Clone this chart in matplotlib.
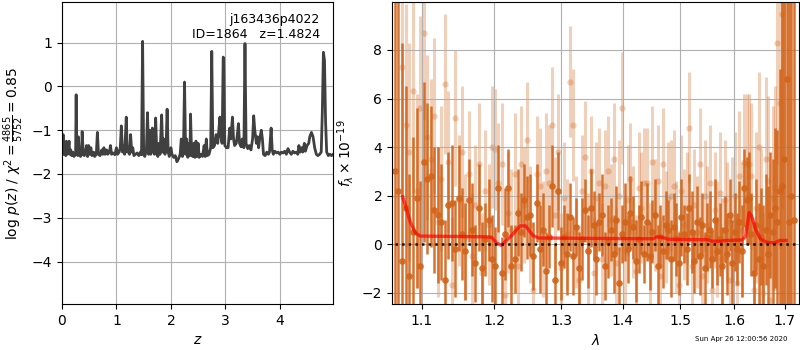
import matplotlib
matplotlib.use('Agg')
import matplotlib.pyplot as plt
import numpy as np

# --- p(z) curve (left panel) ---
z_grid = [0.00, 0.01, 0.02, 0.03, 0.05, 0.07, 0.08, 0.09, 0.11, 0.13, 0.14, 0.16, 0.18, 0.20, 0.22,
          0.25, 0.26, 0.27, 0.29, 0.30, 0.32, 0.34, 0.36, 0.37, 0.39, 0.41, 0.43, 0.45, 0.47, 0.49,
          0.51, 0.53, 0.55, 0.58, 0.60, 0.63, 0.65, 0.67, 0.70, 0.73, 0.75, 0.77, 0.79, 0.82, 0.84,
          0.87, 0.89, 0.91, 0.94, 0.97, 1.00, 1.02, 1.05, 1.07, 1.09, 1.11, 1.13, 1.15, 1.18, 1.20,
          1.22, 1.24, 1.26, 1.28, 1.30, 1.32, 1.35, 1.38, 1.41, 1.44, 1.46, 1.48, 1.50, 1.52, 1.55,
          1.57, 1.59, 1.61, 1.63, 1.66, 1.68, 1.70, 1.72, 1.74, 1.76, 1.78, 1.80, 1.83, 1.85, 1.87,
          1.89, 1.91, 1.93, 1.95, 1.97, 2.00, 2.02, 2.05, 2.08, 2.11, 2.14, 2.17, 2.19, 2.21, 2.23,
          2.25, 2.27, 2.29, 2.31, 2.33, 2.35, 2.36, 2.38, 2.40, 2.42, 2.44, 2.46, 2.48, 2.50, 2.52,
          2.55, 2.58, 2.61, 2.63, 2.65, 2.67, 2.70, 2.73, 2.75, 2.77, 2.80, 2.83, 2.86, 2.88, 2.90,
          2.92, 2.94, 2.96, 2.97, 2.99, 3.02, 3.05, 3.08, 3.10, 3.13, 3.15, 3.17, 3.20, 3.22, 3.24,
          3.26, 3.29, 3.31, 3.34, 3.36, 3.38, 3.41, 3.44, 3.47, 3.50, 3.52, 3.54, 3.57, 3.59, 3.61,
          3.63, 3.66, 3.68, 3.70, 3.73, 3.76, 3.79, 3.81, 3.84, 3.86, 3.88, 3.91, 3.94, 3.97, 4.00,
          4.03, 4.06, 4.09, 4.12, 4.15, 4.18, 4.21, 4.24, 4.27, 4.30, 4.33, 4.35, 4.37, 4.40, 4.42,
          4.45, 4.47, 4.50, 4.53, 4.55, 4.58, 4.61, 4.64, 4.67, 4.70, 4.73, 4.76, 4.78, 4.80, 4.82,
          4.84, 4.86, 4.89, 4.92, 4.95, 4.98]
log_pz = [-1.45, -1.55, -1.10, -1.55, -1.50, -1.58, -1.25, -1.55, -1.50, -1.25, -1.55, -1.45, -1.58, -1.50, -1.60,
          -1.55, -0.19, -1.55, -1.58, -1.15, -1.55, -1.60, -1.55, -1.03, -1.55, -1.58, -1.50, -1.35, -1.60, -1.35,
          -1.55, -1.40, -1.58, -1.50, -1.60, -1.55, -1.05, -1.55, -1.58, -1.45, -1.55, -1.40, -1.55, -1.45, -1.55,
          -1.50, -1.35, -1.55, -1.52, -1.56, -1.40, -1.55, -1.50, -1.40, -0.90, -1.50, -1.35, -1.55, -0.70, -1.50,
          -1.45, -1.55, -1.10, -1.50, -1.40, -1.58, -1.55, -1.52, -1.58, -1.50, -1.56, 1.03, -1.55, -1.60, -1.45,
          -0.60, -1.55, -1.00, -1.55, -0.95, -1.50, -1.55, -0.72, -1.50, -1.60, -1.30, -1.55, -0.65, -1.50, -1.20,
          -1.55, -1.45, -0.52, -1.50, -1.60, -1.40, -1.55, -1.62, -1.58, -1.72, -1.65, -1.55, -1.20, -1.60, -1.50,
          0.10, -1.55, -1.20, -1.62, -1.30, -1.58, -0.63, -1.55, -1.60, -1.30, -1.62, -1.25, -1.60, -1.30, -1.62,
          -1.55, -1.60, -1.35, -1.60, -1.20, -1.58, -1.55, -1.40, 0.80, -1.40, -1.35, -1.10, -1.30, -1.00, -0.70,
          -1.15, -1.30, 0.67, 0.65, -1.35, -1.40, -1.40, -0.95, -1.20, -0.70, -1.20, -1.35, -1.30, -1.10, -0.85,
          -1.30, -1.38, -1.20, -1.40, 0.98, -1.30, -1.42, -1.35, -1.45, -1.20, -0.67, -1.00, -1.30, -1.15, -1.40,
          -1.20, -1.00, -1.20, -1.55, -1.58, -1.50, -1.55, -1.50, -0.95, -1.45, -1.55, -1.48, -1.52, -1.50, -1.55,
          -1.50, -1.52, -1.48, -1.55, -1.42, -1.50, -1.55, -1.48, -1.52, -1.50, -1.55, -1.35, -1.50, -1.40, -1.50,
          -1.30, -1.48, -1.35, -1.30, -1.15, -1.05, -1.15, -1.40, -1.55, -1.58, -1.55, -1.50, -0.60, 0.78, 0.60,
          -0.80, -1.50, -1.58, -1.55, -1.58, -1.55]

# --- spectrum (right panel), wavelength in Angstrom ---
wave = [10650, 10697, 10744, 10791, 10838, 10885, 10932, 10979, 11026, 11073,
        11120, 11167, 11214, 11261, 11308, 11355, 11402, 11449, 11496, 11543,
        11590, 11637, 11684, 11731, 11778, 11825, 11872, 11919, 11966, 12013,
        12060, 12107, 12154, 12201, 12248, 12295, 12342, 12389, 12436, 12483,
        12530, 12577, 12624, 12671, 12718, 12765, 12812, 12859, 12906, 12953,
        13000, 13047, 13094, 13141, 13188, 13235, 13282, 13329, 13376, 13423,
        13470, 13517, 13564, 13611, 13658, 13705, 13752, 13799, 13846, 13893,
        13940, 13987, 14034, 14081, 14128, 14175, 14222, 14269, 14316, 14363,
        14410, 14457, 14504, 14551, 14598, 14645, 14692, 14739, 14786, 14833,
        14880, 14927, 14974, 15021, 15068, 15115, 15162, 15209, 15256, 15303,
        15350, 15397, 15444, 15491, 15538, 15585, 15632, 15679, 15726, 15773,
        15820, 15867, 15914, 15961, 16008, 16055, 16102, 16149, 16196, 16243,
        16290, 16337, 16384, 16431, 16478, 16525, 16572, 16619, 16666, 16713,
        16760, 16807, 16854, 16901, 16948, 16995, 17042, 17089, 17136, 17183]

flux_dark = [3.0, 2.2, -0.7, 1.5, -1.3, 0.5, 1.9, -0.9, 3.4, 2.7,
             2.8, 1.4, 1.2, 0.9, -1.5, 1.6, 1.7, -0.2, 1.9, 0.4,
             -0.3, 1.8, 0.6, -0.8, 1.5, -1.0, 0.2, 1.0, -0.6, -0.9,
             2.3, -1.2, 0.4, 2.3, -0.9, -0.6, 1.3, 0.5, 1.8, 1.1,
             1.2, -0.5, 1.7, -0.2, 0.6, -1.1, 0.3, 2.4, -1.5, 2.2,
             -0.8, 0.3, -0.4, 1.1, -0.5, 0.7, -1.0, 0.2, 1.4, -0.3,
             1.5, 0.8, -0.6, 0.9, 1.2, -0.9, 0.1, 0.6, -0.4, 1.0,
             -1.6, 0.4, 0.9, -0.2, 1.3, 0.7, -0.7, 0.2, 1.1, -0.4,
             0.9, -0.5, 0.5, 1.2, -0.9, 0.3, -0.3, 0.8, 0.6, -0.6,
             0.7, 0.2, -0.8, 1.1, 0.4, -0.2, 1.5, 0.5, -0.7, 0.9,
             -0.5, 0.8, -1.0, 0.3, 0.6, -0.6, 1.0, -0.3, 0.2, -0.9,
             0.6, -0.4, 1.2, -0.8, 0.5, -0.2, 0.9, -0.3, 2.3, 1.8,
             1.9, 0.4, -1.2, 0.8, -0.6, 0.3, -0.9, 0.6, -0.4, 1.2,
             0.5, 1.5, 0.9, 2.2, 2.4, 3.5, 6.8, 0.9, 2.0, 1.0]
err_dark = [12, 10, 9, 5.0, 4.2, 3.9, 3.7, 3.5, 3.3, 3.1,
            2.9, 2.6, 2.8, 2.4, 2.5, 2.2, 2.4, 2.0, 2.2, 1.9,
            2.0, 1.7, 1.9, 1.6, 1.8, 1.9, 1.5, 1.7, 1.8, 1.6,
            1.8, 1.5, 1.9, 1.6, 1.7, 1.4, 1.8, 1.6, 1.5, 1.7,
            1.7, 1.4, 1.6, 1.8, 1.5, 1.6, 1.3, 1.7, 1.5, 1.6,
            1.5, 1.3, 1.7, 1.4, 1.6, 1.2, 1.5, 1.7, 1.3, 1.5,
            1.6, 1.4, 1.5, 1.2, 1.7, 1.4, 1.5, 1.3, 1.6, 1.4,
            1.5, 1.2, 1.6, 1.4, 1.5, 1.3, 1.7, 1.4, 1.5, 1.2,
            1.6, 1.4, 1.3, 1.5, 1.7, 1.3, 1.5, 1.4, 1.2, 1.6,
            1.4, 1.5, 1.3, 1.6, 1.2, 1.5, 1.4, 1.7, 1.3, 1.5,
            1.6, 1.3, 1.5, 1.4, 1.6, 1.2, 1.7, 1.4, 1.5, 1.6,
            1.4, 1.7, 1.5, 1.8, 1.6, 1.5, 1.7, 1.9, 1.6, 1.8,
            1.9, 1.7, 2.1, 1.9, 2.3, 2.0, 2.5, 2.3, 2.8, 2.6,
            3.0, 3.3, 3.8, 5.0, 8.0, 12, 14, 14, 14, 14]

flux_light = [np.nan, np.nan, 7.3, 4.9, 3.8, 6.3, 2.2, 5.6, 8.7, 4.4,
              3.5, 5.3, 0.9, 2.7, 6.6, 3.4, -1.7, 5.2, 1.8, 3.8,
              0.3, 2.9, -0.5, 1.6, 3.3, -1.2, 2.2, 0.8, 4.0, 3.9,
              2.5, 3.3, -2.1, 1.3, 0.6, 2.9, -0.9, 3.3, 1.6, 4.3,
              0.8, -1.9, 2.9, 2.4, 0.2, 3.0, 2.5, 4.9, 1.2, 3.8,
              -1.0, 1.9, 0.4, 6.7, 4.9, 0.5, -1.5, 2.2, 3.6, -0.2,
              3.0, -1.2, 1.9, 2.5, -0.6, 2.4, 3.0, 1.0, 3.5, -0.8,
              2.0, 5.6, -0.3, 1.8, 2.7, 0.9, -1.1, 2.3, 1.5, 2.5,
              2.5, -0.6, 3.4, 1.2, 2.6, -1.3, 3.3, 0.7, 1.9, 2.0,
              2.4, 0.3, -1.7, 2.2, 0.8, 1.5, 4.8, -0.9, 1.6, 0.5,
              3.3, -1.3, 2.0, 0.8, 2.5, -1.9, 1.4, 0.2, 2.1, -0.6,
              1.8, 0.9, -1.5, 1.0, 2.0, -1.6, 2.8, 0.6, 3.4, 3.3,
              3.3, 2.8, -1.9, 1.5, 4.0, 0.7, -2.0, 3.5, 2.6, -2.3,
              1.9, 2.3, 8.3, 5.8, 9.5, np.nan, np.nan, np.nan, np.nan, np.nan]
err_light = [6.0, 6.0, 5.5, 5.0, 4.5, 4.2, 4.0, 3.8, 3.6, 3.4,
             3.3, 3.2, 3.1, 3.0, 2.9, 2.9, 2.8, 2.8, 2.7, 2.7,
             2.6, 2.6, 2.6, 2.5, 2.5, 2.5, 2.5, 2.5, 2.5, 2.5,
             2.5, 2.5, 2.5, 2.5, 2.5, 2.5, 2.4, 2.4, 2.4, 2.4,
             2.4, 2.4, 2.4, 2.4, 2.4, 2.4, 2.4, 2.4, 2.4, 2.4,
             2.3, 2.3, 2.3, 2.3, 2.3, 2.3, 2.3, 2.3, 2.3, 2.3,
             2.3, 2.3, 2.3, 2.3, 2.3, 2.3, 2.3, 2.3, 2.3, 2.3,
             2.3, 2.3, 2.3, 2.3, 2.3, 2.3, 2.3, 2.3, 2.3, 2.3,
             2.3, 2.3, 2.3, 2.3, 2.3, 2.3, 2.3, 2.3, 2.3, 2.3,
             2.3, 2.3, 2.3, 2.3, 2.3, 2.3, 2.3, 2.3, 2.3, 2.3,
             2.3, 2.3, 2.3, 2.4, 2.4, 2.4, 2.4, 2.4, 2.5, 2.5,
             2.5, 2.5, 2.6, 2.6, 2.6, 2.7, 2.7, 2.8, 2.8, 2.9,
             2.9, 3.0, 3.0, 3.1, 3.1, 3.2, 3.3, 3.4, 3.5, 3.6,
             3.8, 4.2, 5.0, 6.0, 8.0, 8.0, 8.0, 8.0, 8.0, 8.0]

model_wave = [10750, 10790, 10850, 10920, 10980, 11900, 11960, 12030, 12100, 12250,
              12380, 12460, 12570, 12660, 14400, 14520, 14580, 14680, 14780, 15500,
              15580, 15750, 15850, 16150, 16220, 16290, 16340, 16420, 16520, 16650,
              16800, 16900, 17030]
model_flux = [1.95, 1.55, 0.90, 0.45, 0.33, 0.30, 0.28, 0.05, -0.05, 0.35,
              0.75, 0.75, 0.35, 0.25, 0.22, 0.22, 0.30, 0.28, 0.20, 0.18,
              0.12, 0.12, 0.15, 0.17, 0.30, 1.30, 1.15, 0.60, 0.20, 0.07,
              0.05, 0.15, 0.15]

wave_ticks = [1.1, 1.2, 1.3, 1.4, 1.5, 1.6, 1.7]
spec_color = '#d2641a'

fig = plt.figure(figsize=(8, 3.5), dpi=100)

# left: redshift PDF
ax1 = fig.add_axes([0.0775, 0.1314, 0.339, 0.863])
ax1.plot(z_grid, log_pz, color='0.25', lw=2)
ax1.set_xlim(0, 4.98)
pzmax = max(log_pz)
ax1.set_ylim(pzmax - 6, pzmax + 0.9)
ax1.grid(True)
ax1.set_xlabel('$z$')
ax1.set_ylabel(r'$\log\,p(z)$ / $\chi^2=\frac{4865}{5752}=0.85$')
ax1.text(0.95, 0.965, 'j163436p4022\nID=1864   z=1.4824', ha='right', va='top',
         fontsize=9, transform=ax1.transAxes)

# right: spectrum
ax2 = fig.add_axes([0.49, 0.1314, 0.509, 0.863])
w = np.array(wave) / 1.e4
ax2.errorbar(w, flux_light, yerr=err_light, fmt='o', color=spec_color, alpha=0.3,
             ms=4.5, elinewidth=2.2, capsize=0, mec='none', zorder=1)
ax2.errorbar(w, flux_dark, yerr=err_dark, fmt='o', color=spec_color, alpha=0.9,
             ms=4.8, elinewidth=1.8, capsize=0, mec='none', zorder=2)
ax2.plot(np.array(model_wave) / 1.e4, model_flux, color='r', alpha=0.7, lw=2.4, zorder=3)
ax2.plot([1.0, 1.8], [0, 0], color='k', linestyle=':', lw=1.8, alpha=0.9, zorder=4)

ax2.set_xscale('log')
ax2.set_xlim(1.0614, 1.730)
ax2.set_ylim(-2.47, 9.98)
ax2.xaxis.set_minor_locator(matplotlib.ticker.NullLocator())
ax2.set_xticks(wave_ticks)
ax2.set_xticklabels(['{0:.1f}'.format(t) for t in wave_ticks])
ax2.grid(True)
ax2.set_xlabel(r'$\lambda$')
ax2.set_ylabel(r'$f_\lambda\times10^{-19}$')

fig.text(0.984, 0.022, 'Sun Apr 26 12:00:56 2020', ha='right', va='bottom', fontsize=5)

fig.savefig('out.png', dpi=100)
